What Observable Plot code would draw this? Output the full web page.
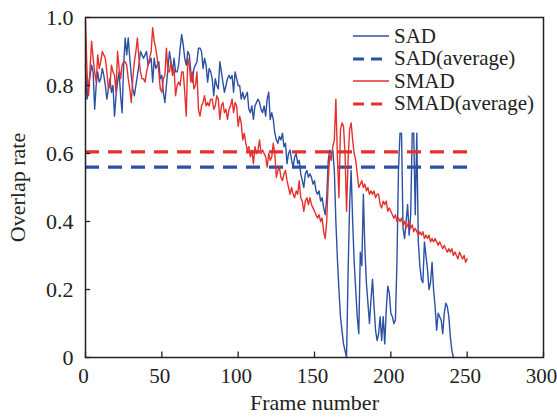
<!DOCTYPE html>
<html>
<head>
<meta charset="utf-8">
<script src="https://cdn.jsdelivr.net/npm/d3@7"></script>
<script src="https://cdn.jsdelivr.net/npm/@observablehq/plot@0.6"></script>
<style>
  html, body { margin: 0; padding: 0; background: #fff; }
  #wrap { position: relative; width: 557px; height: 417px; }
  #wrap > svg { overflow: visible; }
  #legend { position: absolute; left: 353px; top: 25px; font-family: "Liberation Serif", "Times New Roman", serif; font-size: 21px; color: #222; }
  #legend .row { display: flex; align-items: center; height: 22.5px; white-space: nowrap; }
  #legend svg { margin-right: 5px; }
</style>
</head>
<body>
<div id="wrap"><div id="legend"></div></div>
<script>
// ---- data ----
const xTicks = [0, 50, 100, 150, 200, 250, 300];
const yTicks = [0, 0.2, 0.4, 0.6, 0.8, 1.0];
const yTickLabels = ["0", "0.2", "0.4", "0.6", "0.8", "1.0"];
const seriesNames = ["SAD", "SAD(average)", "SMAD", "SMAD(average)"];

// SAD overlap rate, frames 0..241
const sadValues = [
  0.86,0.76,0.80,0.83,0.86,0.84,0.73,0.80,0.84,0.81,
  0.82,0.85,0.83,0.80,0.76,0.79,0.82,0.78,0.80,0.71,
  0.77,0.81,0.84,0.77,0.72,0.86,0.94,0.89,0.94,0.88,
  0.83,0.79,0.77,0.80,0.83,0.86,0.90,0.89,0.88,0.89,
  0.90,0.86,0.87,0.88,0.81,0.88,0.85,0.86,0.87,0.82,
  0.83,0.78,0.75,0.80,0.85,0.90,0.87,0.84,0.88,0.84,
  0.84,0.86,0.91,0.95,0.92,0.88,0.86,0.90,0.89,0.84,
  0.81,0.85,0.86,0.87,0.91,0.91,0.90,0.85,0.88,0.86,
  0.81,0.85,0.84,0.82,0.77,0.82,0.80,0.79,0.87,0.84,
  0.81,0.78,0.80,0.82,0.83,0.82,0.83,0.78,0.84,0.82,
  0.80,0.80,0.76,0.78,0.76,0.77,0.78,0.73,0.72,0.74,
  0.70,0.74,0.75,0.76,0.75,0.73,0.72,0.74,0.71,0.76,
  0.78,0.70,0.72,0.70,0.66,0.64,0.63,0.65,0.64,0.66,
  0.62,0.63,0.57,0.60,0.61,0.58,0.56,0.59,0.60,0.57,
  0.58,0.54,0.52,0.50,0.54,0.55,0.53,0.54,0.53,0.51,
  0.52,0.49,0.48,0.49,0.46,0.47,0.44,0.42,0.47,0.58,
  0.61,0.60,0.61,0.55,0.40,0.29,0.20,0.12,0.08,0.04,
  0.02,0.00,0.25,0.45,0.55,0.40,0.28,0.20,0.12,0.07,
  0.31,0.27,0.48,0.32,0.22,0.16,0.10,0.17,0.23,0.15,
  0.08,0.05,0.07,0.12,0.05,0.12,0.04,0.14,0.21,0.19,
  0.13,0.12,0.10,0.11,0.28,0.55,0.66,0.66,0.38,0.35,
  0.40,0.45,0.36,0.42,0.66,0.66,0.42,0.66,0.34,0.27,
  0.23,0.22,0.34,0.30,0.26,0.20,0.22,0.28,0.20,0.15,
  0.08,0.13,0.12,0.11,0.07,0.13,0.16,0.15,0.12,0.06,
  0.02,0.00
];

// SMAD overlap rate, frames 0..250
const smadValues = [
  0.99,0.84,0.77,0.85,0.93,0.88,0.84,0.81,0.89,0.85,
  0.87,0.90,0.89,0.88,0.84,0.79,0.80,0.86,0.84,0.83,
  0.78,0.90,0.85,0.82,0.86,0.87,0.87,0.86,0.82,0.79,
  0.75,0.82,0.87,0.90,0.94,0.88,0.84,0.82,0.82,0.81,
  0.84,0.86,0.88,0.90,0.97,0.93,0.91,0.88,0.84,0.79,
  0.78,0.82,0.83,0.91,0.84,0.84,0.87,0.83,0.85,0.77,
  0.80,0.81,0.80,0.84,0.84,0.78,0.71,0.88,0.86,0.81,
  0.84,0.79,0.80,0.84,0.73,0.71,0.74,0.75,0.77,0.74,
  0.75,0.74,0.76,0.76,0.73,0.74,0.77,0.76,0.70,0.74,
  0.75,0.72,0.73,0.70,0.73,0.74,0.76,0.72,0.75,0.74,
  0.68,0.71,0.69,0.64,0.66,0.63,0.61,0.62,0.59,0.61,
  0.57,0.62,0.60,0.61,0.64,0.60,0.61,0.60,0.59,0.56,
  0.60,0.58,0.59,0.63,0.60,0.53,0.55,0.56,0.53,0.52,
  0.54,0.55,0.52,0.50,0.48,0.50,0.48,0.47,0.49,0.48,
  0.52,0.47,0.46,0.43,0.46,0.47,0.45,0.47,0.45,0.44,
  0.43,0.42,0.41,0.42,0.40,0.41,0.37,0.35,0.40,0.52,
  0.60,0.58,0.62,0.64,0.76,0.59,0.47,0.67,0.69,0.68,
  0.60,0.43,0.58,0.67,0.69,0.64,0.60,0.58,0.54,0.50,
  0.51,0.52,0.50,0.51,0.49,0.50,0.48,0.49,0.48,0.49,
  0.47,0.48,0.48,0.45,0.44,0.46,0.45,0.46,0.43,0.44,
  0.43,0.42,0.41,0.42,0.40,0.41,0.40,0.41,0.39,0.40,
  0.38,0.39,0.40,0.38,0.39,0.37,0.38,0.37,0.36,0.37,
  0.36,0.37,0.35,0.36,0.35,0.36,0.34,0.35,0.34,0.35,
  0.34,0.33,0.34,0.33,0.32,0.33,0.32,0.31,0.32,0.31,
  0.32,0.30,0.31,0.30,0.29,0.31,0.30,0.29,0.30,0.28,
  0.29
];

const sadAverage = 0.56;
const smadAverage = 0.605;
const averageSpan = [0, 252];

// ---- styles ----
const blue = "#2c50a4";
const red = "#e4312d";
const dash = "14,9";

const sadData = sadValues.map((v, i) => ({frame: i, rate: v}));
const smadData = smadValues.map((v, i) => ({frame: i, rate: v}));

const chart = Plot.plot({
  width: 557,
  height: 417,
  marginLeft: 85,
  marginRight: 14,
  marginTop: 17,
  marginBottom: 60,
  style: {fontFamily: "'Liberation Serif', 'Times New Roman', serif", fontSize: "22px", color: "#222", background: "white"},
  x: {domain: [0, 300]},
  y: {domain: [0, 1]},
  marks: [
    Plot.line(sadData, {x: "frame", y: "rate", stroke: blue, strokeWidth: 1.4}),
    Plot.ruleY([sadAverage], {x1: averageSpan[0], x2: averageSpan[1], stroke: blue, strokeWidth: 3.2, strokeDasharray: dash}),
    Plot.line(smadData, {x: "frame", y: "rate", stroke: red, strokeWidth: 1.4}),
    Plot.ruleY([smadAverage], {x1: averageSpan[0], x2: averageSpan[1], stroke: red, strokeWidth: 3.2, strokeDasharray: dash}),
    Plot.ruleX(xTicks, {y1: 0, y2: 0.016, stroke: "#222", strokeWidth: 1.3}),
    Plot.ruleY(yTicks, {x1: 0, x2: 3.4, stroke: "#222", strokeWidth: 1.3}),
    Plot.frame({stroke: "#222", strokeWidth: 1.5}),
    Plot.axisX(xTicks, {tickSize: 0, tickPadding: 11, fontSize: 21, dx: -2, label: null}),
    Plot.axisX({ticks: [], tickSize: 0, label: "Frame number", labelAnchor: "center", labelOffset: 52, labelArrow: "none"}),
    Plot.axisY(yTicks, {tickSize: 0, tickPadding: 12, tickFormat: (d) => yTickLabels[yTicks.indexOf(d)], label: "Overlap rate", labelAnchor: "center", labelOffset: 76, labelArrow: "none"})
  ]
});

const wrap = document.getElementById("wrap");
wrap.insertBefore(chart, wrap.firstChild);

// legend
const legendItems = [
  {name: seriesNames[0], color: blue, width: 1.4, dash: null},
  {name: seriesNames[1], color: blue, width: 3.2, dash: "11,7"},
  {name: seriesNames[2], color: red, width: 1.4, dash: null},
  {name: seriesNames[3], color: red, width: 3.2, dash: "11,7"}
];
const legend = d3.select("#legend");
for (const it of legendItems) {
  const row = legend.append("div").attr("class", "row");
  const svg = row.append("svg").attr("width", 36).attr("height", 10);
  svg.append("line").attr("x1", 0).attr("x2", 36).attr("y1", 5).attr("y2", 5)
    .attr("stroke", it.color).attr("stroke-width", it.width)
    .attr("stroke-dasharray", it.dash);
  row.append("span").text(it.name);
}
</script>
</body>
</html>
